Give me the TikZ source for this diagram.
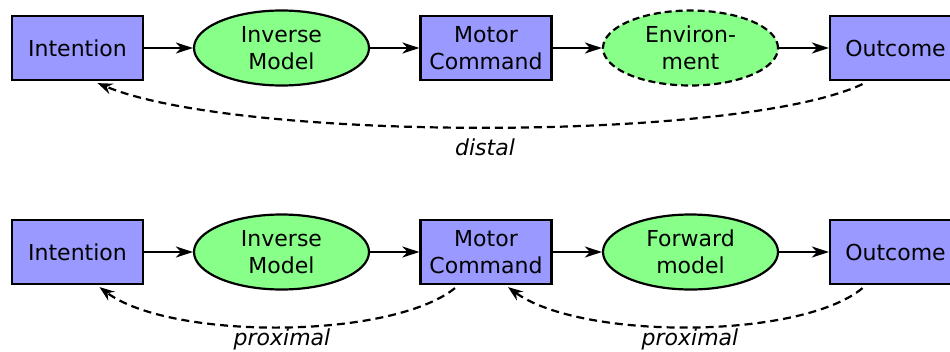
\documentclass[tikz,border=0pt]{standalone}
\usepackage{fontspec}
\setmainfont{DejaVu Sans}
\usetikzlibrary{shapes.geometric,arrows.meta}
\definecolor{boxblue}{RGB}{153,153,255}
\definecolor{modelgreen}{RGB}{136,255,136}
\begin{document}
\begin{tikzpicture}[x=1pt,y=-1pt,
  every node/.style={font=\fontsize{22}{27}\selectfont},
  stagebox/.style={draw,line width=2.2pt,fill=boxblue,minimum width=131pt,minimum height=64pt,inner sep=0pt,align=center},
  model/.style={draw,ellipse,line width=2.2pt,fill=modelgreen,minimum width=175pt,minimum height=75pt,inner sep=0pt,align=center},
  flow/.style={line width=2.2pt,-{Stealth[length=17pt,width=11pt,inset=5pt]}},
  loop/.style={line width=2.2pt,dash pattern=on 8pt off 5pt,-{Stealth[length=15pt,width=11pt,inset=5pt]}},
  tag/.style={font=\fontsize{22}{27}\selectfont\itshape}]
\clip (0,0) rectangle (950,351);
\fill[white] (0,0) rectangle (950,351);

% distal loop
\node[stagebox] (i1) at (77.5,48) {Intention};
\node[model] (m1) at (281.5,48) {Inverse\\Model};
\node[stagebox] (c1) at (486,48) {Motor\\Command};
\node[model,dash pattern=on 7pt off 4pt] (e1) at (690.5,48) {Environ-\\ment};
\node[stagebox] (o1) at (895.5,48) {Outcome};
\draw[flow] (i1) -- (m1);
\draw[flow] (m1) -- (c1);
\draw[flow] (c1) -- (e1);
\draw[flow] (e1) -- (o1);
\draw[loop] ([xshift=-33pt,yshift=-3pt]o1.south) .. controls (740,142) and (240,142) .. ([xshift=20pt,yshift=-2pt]i1.south);
\node[tag] (d) at (485,147) {distal};

% proximal loops
\node[stagebox] (i2) at (77.5,252) {Intention};
\node[model] (m2) at (281.5,252) {Inverse\\Model};
\node[stagebox] (c2) at (486,252) {Motor\\Command};
\node[model] (f2) at (690.5,252) {Forward\\model};
\node[stagebox] (o2) at (895.5,252) {Outcome};
\draw[flow] (i2) -- (m2);
\draw[flow] (m2) -- (c2);
\draw[flow] (c2) -- (f2);
\draw[flow] (f2) -- (o2);
\draw[loop] ([xshift=-31pt,yshift=-3pt]c2.south) .. controls (390,340) and (170,340) .. ([xshift=22pt,yshift=-2pt]i2.south);
\draw[loop] ([xshift=-33pt,yshift=-3pt]o2.south) .. controls (800,340) and (580,340) .. ([xshift=22pt,yshift=-2pt]c2.south);
\node[tag] (p1) at (282,339) {proximal};
\node[tag] (p2) at (690,339) {proximal};
\end{tikzpicture}
\end{document}
